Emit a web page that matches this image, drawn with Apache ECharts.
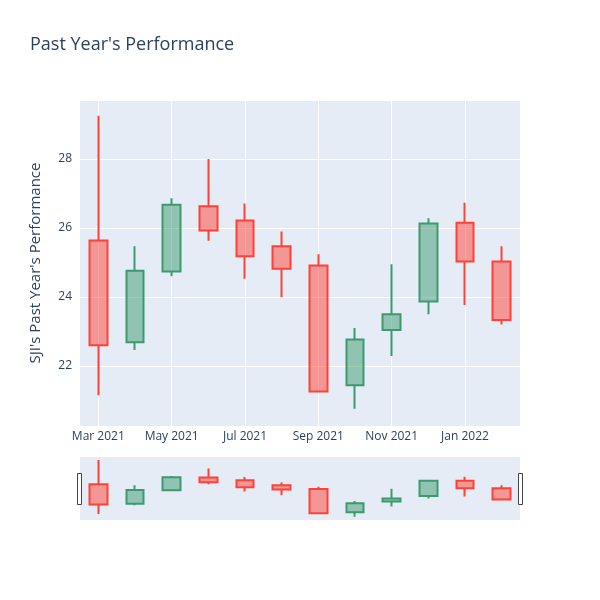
<!DOCTYPE html>
<html>
<head>
    <meta charset="UTF-8">
    <title>Past Year's Performance</title>
    <script src="https://cdn.jsdelivr.net/npm/echarts@6/dist/echarts.min.js"></script>
</head>
<body style="margin:0">
    <div id="main" style="width: 600px;height:600px;"></div>
    <script>
        // monthly candles, values
        var months = ['2021-03', '2021-04', '2021-05', '2021-06', '2021-07', '2021-08',
                      '2021-09', '2021-10', '2021-11', '2021-12', '2022-01', '2022-02'];
        var opens  = [25.64, 22.69, 24.74, 26.63, 26.22, 25.47, 24.91, 21.44, 23.04, 23.87, 26.15, 25.03];
        var closes = [22.60, 24.76, 26.67, 25.93, 25.18, 24.82, 21.26, 22.77, 23.50, 26.13, 25.03, 23.33];
        var lows   = [21.15, 22.46, 24.60, 25.63, 24.53, 23.99, 21.23, 20.76, 22.29, 23.50, 23.77, 23.20];
        var highs  = [29.25, 25.47, 26.86, 28.00, 26.71, 25.90, 25.24, 23.10, 24.95, 26.28, 26.73, 25.47];
        var monthNames = ['Jan', 'Feb', 'Mar', 'Apr', 'May', 'Jun', 'Jul', 'Aug', 'Sep', 'Oct', 'Nov', 'Dec'];

        var ohlc = [];
        for (var i = 0; i < months.length; i++) {
            // echarts order: open, close, low, high
            ohlc.push([opens[i], closes[i], lows[i], highs[i]]);
        }

        var textColor = '#2a3f5f';
        var candleStyle = {
            color: 'rgba(61,153,112,0.5)',
            color0: 'rgba(255,65,54,0.5)',
            borderColor: '#3D9970',
            borderColor0: '#FF4136',
            borderWidth: 2
        };

        var chart = echarts.init(document.getElementById('main'));
        chart.setOption({
            animation: false,
            backgroundColor: '#fff',
            textStyle: { fontFamily: 'Open Sans' },
            title: {
                text: "Past Year's Performance",
                left: 25,
                top: 31,
                textStyle: { fontSize: 18, fontWeight: 'normal', color: textColor, fontFamily: 'Open Sans' }
            },
            grid: [
                { left: 80, right: 80, top: 100, height: 326, show: true, backgroundColor: '#E5ECF6', borderWidth: 0 },
                { left: 80, right: 80, top: 457, height: 63, show: true, backgroundColor: '#E5ECF6', borderWidth: 0 }
            ],
            xAxis: [{
                type: 'category',
                gridIndex: 0,
                data: months,
                axisLine: { show: false },
                axisTick: { show: false, alignWithLabel: true },
                axisLabel: {
                    interval: 1,
                    color: textColor,
                    fontSize: 12,
                    margin: 5,
                    formatter: function (v) {
                        var p = v.split('-');
                        return monthNames[parseInt(p[1], 10) - 1] + ' ' + p[0];
                    }
                },
                splitLine: { show: true, interval: 1, alignWithLabel: true, lineStyle: { color: '#fff', width: 1 } }
            }, {
                type: 'category',
                gridIndex: 1,
                data: months,
                show: false
            }],
            yAxis: [{
                type: 'value',
                gridIndex: 0,
                min: 20.26,
                max: 29.71,
                name: "SJI's Past Year's Performance",
                nameLocation: 'middle',
                nameGap: 37,
                nameTextStyle: { color: textColor, fontSize: 15 },
                axisLine: { show: false },
                axisTick: { show: false },
                axisLabel: { color: textColor, fontSize: 12, showMinLabel: false, showMaxLabel: false },
                splitLine: { show: true, lineStyle: { color: '#fff', width: 1 } }
            }, {
                type: 'value',
                gridIndex: 1,
                min: 20.26,
                max: 29.71,
                show: false,
                splitLine: { show: false }
            }],
            series: [{
                type: 'candlestick',
                xAxisIndex: 0,
                yAxisIndex: 0,
                barWidth: 18,
                data: ohlc,
                itemStyle: candleStyle
            }, {
                type: 'candlestick',
                xAxisIndex: 1,
                yAxisIndex: 1,
                barWidth: 18,
                data: ohlc,
                itemStyle: candleStyle
            }],
            // range slider handles
            graphic: [
                { type: 'rect', shape: { x: 77.5, y: 473.5, width: 4, height: 31 }, style: { fill: '#fff', stroke: '#444', lineWidth: 1 } },
                { type: 'rect', shape: { x: 518.5, y: 473.5, width: 4, height: 31 }, style: { fill: '#fff', stroke: '#444', lineWidth: 1 } }
            ]
        });
    </script>
</body>
</html>
